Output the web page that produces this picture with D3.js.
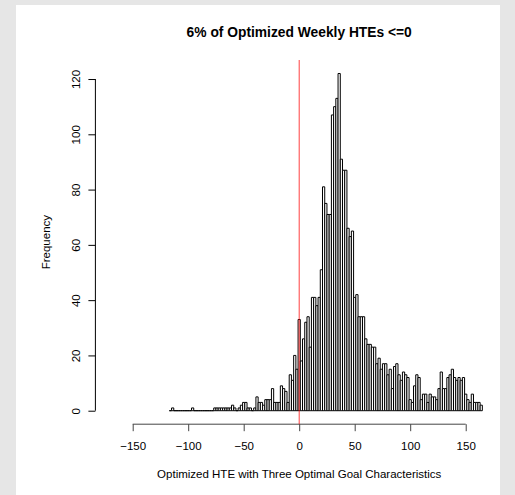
<!DOCTYPE html>
<html>
<head>
<meta charset="utf-8">
<script src="https://cdnjs.cloudflare.com/ajax/libs/d3/7.8.5/d3.min.js"></script>
<style>
  body { margin: 0; background: #e6e6e6; }
  svg { display: block; }
  text { font-family: "Liberation Sans", Arial, Helvetica, sans-serif; fill: #000; }
</style>
</head>
<body>
<svg width="515" height="495"></svg>
<script>
// histogram counts, bins of width 2 starting at -117
var counts = [
  0, 1, 0, 0, 0, 0, 0, 0, 0, 0, 1, 0, 0, 0, 0, 0, 0, 0, 0, 0,
  1, 1, 1, 1, 1, 1, 1, 1, 2, 1, 0, 1, 2, 3, 3, 1, 1, 0, 1,
  5, 3, 3, 2, 4, 4, 4, 8, 3, 3, 3, 9, 8, 7, 3, 13, 11, 20, 15,
  33,
  18, 26, 32, 34, 23, 41, 41, 38, 41, 51,
  81, 75, 71, 71, 107, 110, 113, 122, 91, 87,
  87, 66, 63, 65, 41, 42, 34, 34, 34, 26,
  24, 24, 23, 23, 17, 19, 15, 17, 17, 13,
  15, 8, 16, 17, 13, 11, 14, 13, 12, 4,
  3, 9, 13, 12, 4, 6, 6, 3, 6, 5,
  5, 4, 8, 14, 8, 8, 12, 13, 15, 12,
  11, 12, 11, 12, 6, 4, 3, 6, 3, 3,
  3, 2
];
var breakStart = -117;
var binWidth = 2;
var xTicks = [-150, -100, -50, 0, 50, 100, 150];
var yTicks = [0, 20, 40, 60, 80, 100, 120];
var xLimits = [-170, 170];
var cutoff = 0;
var title = "6% of Optimized Weekly HTEs <=0";
var xLabel = "Optimized HTE with Three Optimal Goal Characteristics";
var yLabel = "Frequency";

var svg = d3.select("svg");

// soft blur so the thin bars read grey like the downscaled original
svg.append("defs").append("filter")
  .attr("id", "soft")
  .append("feGaussianBlur")
  .attr("stdDeviation", 0.4);

// white page area inside the grey frame
svg.append("rect")
  .attr("x", 16).attr("y", 5)
  .attr("width", 484).attr("height", 490)
  .attr("fill", "#ffffff");

var plot = { left: 95.4, right: 503, top: 60, bottom: 424.2 };

// R style 4% padding on both axes
var xPad = (xLimits[1] - xLimits[0]) * 0.04;
var x = d3.scaleLinear()
  .domain([xLimits[0] - xPad, xLimits[1] + xPad])
  .range([plot.left, plot.right]);

var yMax = d3.max(counts);
var y = d3.scaleLinear()
  .domain([-yMax * 0.04, yMax * 1.04])
  .range([plot.bottom, plot.top]);

var bins = counts.map(function(c, i) {
  return { x0: breakStart + i * binWidth, x1: breakStart + (i + 1) * binWidth, n: c };
});

svg.append("g")
  .attr("class", "bars")
  .attr("filter", "url(#soft)")
  .selectAll("path")
  .data(bins)
  .enter().append("path")
  .attr("d", function(d) {
    var a = x(d.x0), b = x(d.x1), y0 = y(0), y1 = y(d.n);
    return "M" + a + "," + y0 + "V" + y1 + "H" + b + "V" + y0 + "Z";
  })
  .attr("fill", "#ffffff")
  .attr("stroke", "#000000")
  .attr("stroke-width", 1);

// x axis, line only between first and last tick like base R
var xAxis = svg.append("g")
  .attr("transform", "translate(0," + plot.bottom + ")")
  .call(d3.axisBottom(x).tickValues(xTicks).tickSize(7).tickPadding(11)
    .tickFormat(function(d) { return d < 0 ? "\u2212" + Math.abs(d) : d; }));
xAxis.select(".domain").remove();
xAxis.append("line")
  .attr("x1", x(xTicks[0])).attr("x2", x(xTicks[xTicks.length - 1]))
  .attr("stroke", "#000");
xAxis.selectAll("line").attr("stroke", "#444");
xAxis.selectAll("text")
  .attr("font-size", "11.5px")
  .attr("font-family", "Liberation Sans, Arial, sans-serif")
  .attr("fill", "#111");

var yAxis = svg.append("g")
  .attr("transform", "translate(" + plot.left + ",0)")
  .call(d3.axisLeft(y).tickValues(yTicks).tickSize(7));
yAxis.select(".domain").remove();
yAxis.append("line")
  .attr("y1", y(yTicks[0])).attr("y2", y(yTicks[yTicks.length - 1]))
  .attr("stroke", "#000");
yAxis.selectAll("text")
  .attr("transform", "rotate(-90)")
  .attr("x", 0)
  .attr("y", -15.4)
  .attr("dy", 0)
  .attr("text-anchor", "middle")
  .attr("font-size", "11.5px")
  .attr("font-family", "Liberation Sans, Arial, sans-serif")
  .attr("fill", "#111");

// vertical reference line at zero
svg.append("line")
  .attr("x1", x(cutoff)).attr("x2", x(cutoff))
  .attr("y1", plot.top).attr("y2", plot.bottom)
  .attr("stroke", "#ff0000")
  .attr("stroke-opacity", 0.75)
  .attr("stroke-width", 1);

svg.append("text")
  .attr("x", (plot.left + plot.right) / 2)
  .attr("y", 36.5)
  .attr("text-anchor", "middle")
  .attr("font-size", "13.8px")
  .attr("font-weight", "bold")
  .text(title);

svg.append("text")
  .attr("x", (plot.left + plot.right) / 2)
  .attr("y", 477.5)
  .attr("text-anchor", "middle")
  .attr("font-size", "11.5px")
  .attr("fill", "#111")
  .text(xLabel);

svg.append("text")
  .attr("transform", "translate(50," + (plot.top + plot.bottom) / 2 + ") rotate(-90)")
  .attr("text-anchor", "middle")
  .attr("font-size", "11.5px")
  .attr("fill", "#111")
  .text(yLabel);
</script>
</body>
</html>
